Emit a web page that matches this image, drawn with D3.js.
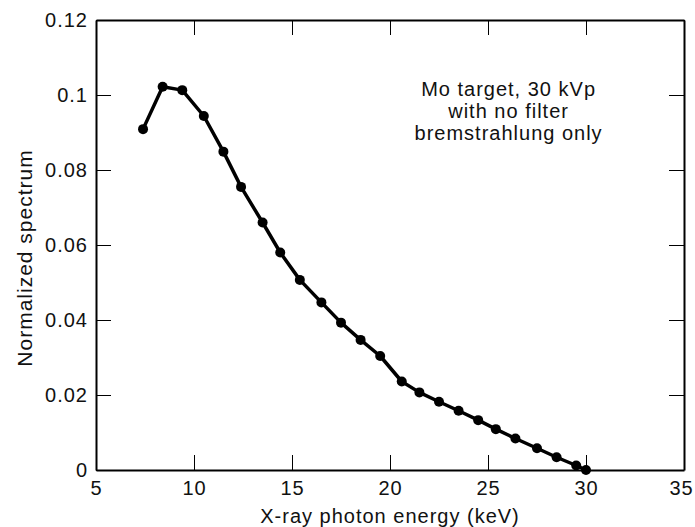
<!DOCTYPE html>
<html>
<head>
<meta charset="utf-8">
<script src="https://cdnjs.cloudflare.com/ajax/libs/d3/7.8.5/d3.min.js"></script>
<style>
  body { margin: 0; background: #fff; }
  svg text { font-family: "Liberation Sans", Arial, Helvetica, sans-serif; fill: #111; letter-spacing: 1px; }
  .axis path { stroke: #000; stroke-width: 2px; }
  .axis line { stroke: #000; stroke-width: 1px; }
  .axis text { font-size: 20px; }
</style>
</head>
<body>
<div id="chart"></div>
<script>
// spectrum
var energy = [7.4, 8.4, 9.4, 10.5, 11.5, 12.4, 13.5, 14.4, 15.4, 16.5, 17.5, 18.5,
              19.5, 20.6, 21.5, 22.5, 23.5, 24.5, 25.4, 26.4, 27.5, 28.5, 29.5, 30];
var spectrum = [0.0909, 0.1022, 0.1013, 0.0944, 0.0849, 0.0755, 0.0660, 0.0580, 0.0507,
                0.0447, 0.0393, 0.0347, 0.0304, 0.0236, 0.0207, 0.0182, 0.0158, 0.0133,
                0.0109, 0.0084, 0.0058, 0.0034, 0.0012, 0.0];
var xTicks = [5, 10, 15, 20, 25, 30, 35];
var yTicks = [0, 0.02, 0.04, 0.06, 0.08, 0.1, 0.12];
var yTickLabels = ["0", "0.02", "0.04", "0.06", "0.08", "0.1", "0.12"];
var note = ["Mo target, 30 kVp", "with no filter", "bremstrahlung only"];

var width = 695, height = 527;
var margin = {top: 20, right: 11, bottom: 57, left: 96};
var w = width - margin.left - margin.right,
    h = height - margin.top - margin.bottom;

var svg = d3.select("#chart").append("svg")
    .attr("width", width)
    .attr("height", height);

var g = svg.append("g")
    .attr("transform", "translate(" + margin.left + "," + margin.top + ")");

var x = d3.scaleLinear().domain([5, 35]).range([0, w]);
var y = d3.scaleLinear().domain([0, 0.12]).range([h, 0]);

var xAxis = g.append("g").attr("class", "axis")
    .attr("transform", "translate(0," + h + ")")
    .call(d3.axisBottom(x).tickValues(xTicks).tickSizeInner(-15).tickSizeOuter(0).tickPadding(11).tickFormat(d3.format("d")));

// last label sits at the right edge, nudge it in so it is not clipped
xAxis.selectAll(".tick text").filter(function(d) { return d === 35; })
    .attr("dx", "-3");

g.append("g").attr("class", "axis")
    .call(d3.axisLeft(y).tickValues(yTicks).tickSizeInner(-15).tickSizeOuter(0).tickPadding(8)
        .tickFormat(function(d, i) { return yTickLabels[i]; }));

g.append("g").attr("class", "axis")
    .call(d3.axisTop(x).tickValues(xTicks).tickSizeInner(-15).tickSizeOuter(0).tickFormat(""));

g.append("g").attr("class", "axis")
    .attr("transform", "translate(" + w + ",0)")
    .call(d3.axisRight(y).tickValues(yTicks).tickSizeInner(-15).tickSizeOuter(0).tickFormat(""));

var pts = energy.map(function(e, i) { return [e, spectrum[i]]; });

var line = d3.line()
    .x(function(d) { return x(d[0]); })
    .y(function(d) { return y(d[1]); });

g.append("path")
    .datum(pts)
    .attr("d", line)
    .attr("fill", "none")
    .attr("stroke", "#000")
    .attr("stroke-width", 3.5)
    .attr("stroke-linejoin", "round");

g.selectAll(".dot")
    .data(pts)
    .enter().append("circle")
    .attr("class", "dot")
    .attr("cx", function(d) { return x(d[0]); })
    .attr("cy", function(d) { return y(d[1]); })
    .attr("r", 5)
    .attr("fill", "#000");

// annotation
var ann = g.append("text")
    .attr("text-anchor", "middle")
    .attr("font-size", 20);
ann.selectAll("tspan")
    .data(note)
    .enter().append("tspan")
    .attr("x", x(26.05))
    .attr("y", function(d, i) { return 76 + i * 22; })
    .text(function(d) { return d; });

// axis titles
svg.append("text")
    .attr("x", margin.left + w / 2)
    .attr("y", 523)
    .attr("text-anchor", "middle")
    .attr("font-size", 20)
    .text("X-ray photon energy (keV)");

svg.append("text")
    .attr("transform", "translate(32,258) rotate(-90)")
    .attr("text-anchor", "middle")
    .attr("font-size", 21)
    .text("Normalized spectrum");
</script>
</body>
</html>
